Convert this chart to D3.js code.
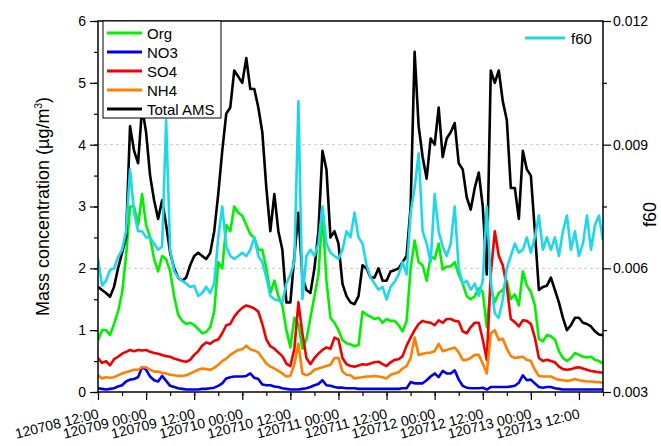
<!DOCTYPE html>
<html>
<head>
<meta charset="utf-8">
<script src="https://cdn.jsdelivr.net/npm/d3@7"></script>
<style>
  body { margin: 0; background: #fff; }
  svg { display: block; font-family: "Liberation Sans", Arial, sans-serif; }
</style>
</head>
<body>
<svg id="chart" width="661" height="446"></svg>
<script>
// DATA: hourly samples starting 2012-07-08 12:00
var startTime = new Date(2012, 6, 8, 12, 0);
var endTime = new Date(2012, 6, 13, 18, 0);

var totalAms = [
  1.70,1.65,1.60,1.54,1.70,2.00,2.25,2.50,4.30,3.90,
  3.70,4.60,4.20,3.50,3.10,2.80,3.10,2.70,2.25,2.00,
  1.85,1.80,1.85,2.05,2.20,2.25,2.20,2.15,2.25,2.60,
  3.20,3.90,4.50,4.60,5.20,5.10,5.00,5.40,4.90,4.90,
  4.60,4.20,3.30,2.60,3.20,2.60,2.30,1.45,1.45,2.20,
  2.90,1.85,1.65,1.60,2.00,2.60,3.90,3.60,2.50,2.60,
  2.40,1.75,1.55,1.45,1.42,1.55,2.05,2.00,1.85,1.85,
  2.00,1.80,1.80,1.95,1.97,2.00,2.10,2.20,3.00,5.50,
  4.30,3.80,3.45,4.10,4.00,4.60,3.80,4.10,4.20,4.35,
  3.70,3.60,3.15,2.95,3.30,3.55,3.00,1.90,5.20,5.00,
  5.20,4.70,4.40,3.30,3.30,2.80,3.90,3.60,3.50,2.60,
  1.65,1.70,1.72,1.85,1.65,1.45,1.20,1.00,1.08,1.20,
  1.20,1.12,1.10,1.06,0.98,0.93,0.92
];
var org = [
  0.84,1.00,1.00,0.92,1.10,1.30,1.60,2.20,3.00,3.00,
  2.70,3.20,2.70,2.50,2.15,1.95,2.20,2.15,1.95,1.55,
  1.25,1.15,1.10,1.12,1.08,1.02,0.95,0.97,1.05,1.30,
  2.10,2.00,2.70,2.60,3.00,2.90,2.85,2.70,2.55,2.50,
  2.30,2.30,2.00,1.60,1.80,1.55,1.40,1.00,0.72,1.20,
  1.10,0.70,0.85,1.20,1.55,1.90,2.90,1.80,1.20,1.12,
  1.00,0.84,0.79,0.77,0.74,0.76,1.30,1.25,1.22,1.18,
  1.20,1.12,1.18,1.15,1.15,1.08,0.98,1.15,2.00,2.45,
  2.10,2.05,1.80,2.20,2.15,2.40,1.98,2.03,2.03,2.10,
  1.90,1.75,1.55,1.50,1.55,1.68,1.62,1.05,1.70,1.45,
  1.60,1.65,1.80,1.50,1.58,1.40,1.95,1.72,1.62,1.40,
  0.86,0.82,0.92,0.90,0.85,0.66,0.55,0.50,0.55,0.63,
  0.60,0.57,0.56,0.57,0.52,0.50,0.46
];
var so4 = [
  0.55,0.47,0.50,0.43,0.53,0.57,0.62,0.65,0.68,0.66,
  0.68,0.67,0.68,0.65,0.63,0.62,0.60,0.58,0.57,0.54,
  0.52,0.50,0.49,0.52,0.60,0.66,0.75,0.80,0.78,0.83,
  0.85,0.95,1.08,1.10,1.22,1.30,1.36,1.40,1.38,1.35,
  1.30,1.10,0.85,0.74,0.70,0.64,0.58,0.46,0.42,0.70,
  1.45,0.95,0.55,0.45,0.55,0.62,0.68,0.72,0.70,0.88,
  0.85,0.55,0.45,0.42,0.41,0.43,0.45,0.44,0.46,0.48,
  0.49,0.45,0.42,0.48,0.52,0.53,0.58,0.75,0.88,1.00,
  1.10,1.15,1.13,1.12,1.08,1.16,1.12,1.18,1.18,1.15,
  1.14,0.98,0.95,1.05,1.12,1.12,0.85,0.52,1.90,2.60,
  2.20,2.05,1.70,1.18,1.13,1.06,1.16,1.15,1.10,0.88,
  0.55,0.50,0.52,0.50,0.48,0.41,0.37,0.36,0.37,0.39,
  0.40,0.38,0.36,0.34,0.33,0.32,0.31
];
var nh4 = [
  0.27,0.22,0.24,0.23,0.24,0.27,0.30,0.32,0.34,0.36,
  0.36,0.40,0.40,0.36,0.33,0.33,0.31,0.30,0.28,0.27,
  0.26,0.26,0.27,0.30,0.33,0.36,0.38,0.37,0.36,0.39,
  0.44,0.50,0.54,0.60,0.64,0.68,0.69,0.75,0.69,0.67,
  0.64,0.55,0.46,0.41,0.38,0.34,0.30,0.25,0.26,0.45,
  0.78,0.30,0.27,0.30,0.36,0.38,0.40,0.42,0.44,0.55,
  0.55,0.33,0.28,0.27,0.22,0.23,0.24,0.25,0.25,0.26,
  0.25,0.24,0.22,0.28,0.30,0.32,0.38,0.42,0.55,0.88,
  0.60,0.62,0.63,0.64,0.66,0.78,0.66,0.68,0.70,0.72,
  0.64,0.52,0.52,0.55,0.60,0.60,0.46,0.30,0.95,1.00,
  0.84,0.86,0.70,0.58,0.55,0.56,0.57,0.52,0.50,0.36,
  0.26,0.25,0.25,0.25,0.22,0.20,0.19,0.18,0.19,0.21,
  0.19,0.18,0.17,0.17,0.16,0.16,0.15
];
var no3 = [
  0.06,0.05,0.04,0.05,0.06,0.09,0.11,0.17,0.20,0.21,
  0.24,0.40,0.36,0.25,0.19,0.17,0.26,0.18,0.10,0.08,
  0.06,0.05,0.04,0.04,0.04,0.04,0.05,0.05,0.06,0.07,
  0.10,0.14,0.22,0.24,0.25,0.25,0.25,0.26,0.30,0.23,
  0.21,0.12,0.11,0.11,0.09,0.08,0.06,0.05,0.04,0.04,
  0.04,0.05,0.06,0.08,0.11,0.13,0.19,0.11,0.10,0.08,
  0.07,0.07,0.06,0.06,0.06,0.05,0.05,0.05,0.05,0.05,
  0.05,0.05,0.05,0.05,0.05,0.05,0.06,0.06,0.16,0.14,
  0.14,0.14,0.19,0.25,0.30,0.24,0.34,0.30,0.30,0.35,
  0.20,0.10,0.07,0.06,0.06,0.06,0.07,0.04,0.08,0.08,
  0.08,0.08,0.08,0.09,0.10,0.15,0.27,0.19,0.20,0.14,
  0.08,0.07,0.08,0.08,0.06,0.05,0.04,0.04,0.04,0.04,
  0.04,0.04,0.04,0.04,0.04,0.04,0.04
];
var f60 = [
  0.00623,0.00558,0.00570,0.00596,0.00600,0.00627,0.00645,0.00690,0.00840,0.00735,
  0.00690,0.00690,0.00675,0.00675,0.00660,0.00645,0.00653,0.00960,0.00645,0.00593,
  0.00578,0.00570,0.00563,0.00555,0.00558,0.00533,0.00540,0.00555,0.00540,0.00563,
  0.00675,0.00750,0.00653,0.00630,0.00623,0.00630,0.00638,0.00630,0.00645,0.00675,
  0.00630,0.00615,0.00578,0.00533,0.00525,0.00522,0.00518,0.00563,0.00585,0.00615,
  0.01005,0.00525,0.00630,0.00645,0.00630,0.00660,0.00750,0.00660,0.00638,0.00630,
  0.00623,0.00645,0.00690,0.00675,0.00735,0.00675,0.00660,0.00608,0.00578,0.00563,
  0.00548,0.00555,0.00525,0.00555,0.00567,0.00585,0.00615,0.00585,0.00735,0.00795,
  0.00879,0.00690,0.00660,0.00615,0.00780,0.00690,0.00653,0.00630,0.00660,0.00750,
  0.00600,0.00563,0.00570,0.00548,0.00563,0.00533,0.00570,0.00750,0.00570,0.00491,
  0.00480,0.00525,0.00600,0.00630,0.00660,0.00638,0.00645,0.00675,0.00638,0.00675,
  0.00728,0.00645,0.00675,0.00645,0.00675,0.00630,0.00690,0.00728,0.00645,0.00690,
  0.00630,0.00660,0.00728,0.00645,0.00705,0.00728,0.00668
];

var seriesNames = ["Org", "NO3", "SO4", "NH4", "Total AMS"];
var seriesColors = ["#00f000", "#0000f0", "#f00000", "#ff8000", "#000000"];
var f60Color = "#1ed8ea";
var leftTicks = [0, 1, 2, 3, 4, 5, 6];
var rightTicks = [0.003, 0.006, 0.009, 0.012];
var gridValues = [2, 4];

var times = org.map(function (d, i) { return d3.timeHour.offset(startTime, i); });
var leftSeries = [org, no3, so4, nh4, totalAms];

// LAYOUT
var svg = d3.select("#chart");
var plotLeft = 98, plotRight = 603, plotTop = 21, plotBottom = 392;

var x = d3.scaleTime().domain([startTime, endTime]).range([plotLeft, plotRight]);
var y = d3.scaleLinear().domain([0, 6]).range([plotBottom, plotTop]);
var y2 = d3.scaleLinear().domain([0.003, 0.012]).range([plotBottom, plotTop]);

// grid lines
svg.selectAll(".grid")
    .data(gridValues)
    .enter().append("line")
    .attr("x1", plotLeft).attr("x2", plotRight)
    .attr("y1", function (d) { return y(d); })
    .attr("y2", function (d) { return y(d); })
    .attr("stroke", "#c8c8c8")
    .attr("stroke-dasharray", "3,3");

// series lines
var plot = svg.append("g");
plot.append("clipPath").attr("id", "clip")
    .append("rect").attr("x", plotLeft).attr("y", plotTop)
    .attr("width", plotRight - plotLeft).attr("height", plotBottom - plotTop);

var line = d3.line()
    .x(function (d, i) { return x(times[i]); })
    .y(function (d) { return y(d); });
for (var s = 0; s < leftSeries.length; s++) {
    plot.append("path")
        .attr("d", line(leftSeries[s]))
        .attr("fill", "none")
        .attr("stroke", seriesColors[s])
        .attr("stroke-width", 2.6)
        .attr("stroke-linejoin", "round")
        .attr("clip-path", "url(#clip)");
}
var f60Line = d3.line()
    .x(function (d, i) { return x(times[i]); })
    .y(function (d) { return y2(d); });
plot.append("path")
    .attr("d", f60Line(f60))
    .attr("fill", "none")
    .attr("stroke", f60Color)
    .attr("stroke-width", 2.6)
    .attr("stroke-linejoin", "round")
    .attr("clip-path", "url(#clip)");

// AXES
var majorTimes = d3.timeHour.every(12).range(startTime, d3.timeHour.offset(endTime, 1));
var minorTimes = d3.timeHour.every(6).range(startTime, d3.timeHour.offset(endTime, 1));
var fmt = d3.timeFormat("%y%m%d %H:%M");

svg.append("g").attr("transform", "translate(0," + plotBottom + ")")
    .call(d3.axisBottom(x).tickValues(minorTimes).tickSize(4).tickSizeOuter(0).tickFormat(""));
var xAxis = svg.append("g").attr("transform", "translate(0," + plotBottom + ")")
    .call(d3.axisBottom(x).tickValues(majorTimes).tickSize(8).tickSizeOuter(0).tickFormat(fmt));
xAxis.selectAll("text")
    .attr("x", 0).attr("y", 0).attr("dy", 0)
    .attr("text-anchor", "end")
    .attr("transform", "translate(1,26) rotate(-14)");

svg.append("g").attr("transform", "translate(" + plotLeft + ",0)")
    .call(d3.axisLeft(y).ticks(12).tickSize(4).tickSizeOuter(0).tickFormat(""));
svg.append("g").attr("transform", "translate(" + plotLeft + ",0)")
    .call(d3.axisLeft(y).tickValues(leftTicks).tickSize(8).tickPadding(4).tickSizeOuter(0)
        .tickFormat(d3.format("d")));

svg.append("g").attr("transform", "translate(" + plotRight + ",0)")
    .call(d3.axisRight(y2).tickValues([0.0045, 0.0075, 0.0105]).tickSize(4).tickSizeOuter(0).tickFormat(""));
svg.append("g").attr("transform", "translate(" + plotRight + ",0)")
    .call(d3.axisRight(y2).tickValues(rightTicks).tickSize(8).tickPadding(2).tickSizeOuter(0)
        .tickFormat(d3.format(".3f")));

svg.selectAll(".tick text")
    .attr("font-size", 14)
    .attr("font-family", "'Liberation Sans', Arial, sans-serif")
    .attr("fill", "#000");
svg.selectAll(".tick line").attr("stroke", "#000").attr("stroke-width", 1.2);
svg.selectAll(".domain").remove();

// frame
svg.append("rect")
    .attr("x", plotLeft).attr("y", plotTop)
    .attr("width", plotRight - plotLeft).attr("height", plotBottom - plotTop)
    .attr("fill", "none").attr("stroke", "#000").attr("stroke-width", 1.5);

// axis titles
svg.append("text")
    .attr("transform", "translate(49," + ((plotTop + plotBottom) / 2) + ") rotate(-90)")
    .attr("text-anchor", "middle")
    .attr("font-size", 18)
    .html('Mass concentration (\u00b5g/m<tspan dy="-7" font-size="10">3</tspan><tspan dy="7">)</tspan>');

svg.append("text")
    .attr("transform", "translate(656," + ((plotTop + plotBottom) / 2 + 8) + ") rotate(-90)")
    .attr("text-anchor", "middle")
    .attr("font-size", 18)
    .text("f60");

// LEGENDS
var legend = svg.append("g");
legend.append("rect")
    .attr("x", 103).attr("y", plotTop)
    .attr("width", 118).attr("height", 97)
    .attr("fill", "#fff").attr("stroke", "#000").attr("stroke-width", 1);
var rows = legend.selectAll(".row")
    .data(seriesNames)
    .enter().append("g")
    .attr("transform", function (d, i) { return "translate(0," + (33 + i * 19) + ")"; });
rows.append("line")
    .attr("x1", 107).attr("x2", 142)
    .attr("stroke", function (d, i) { return seriesColors[i]; })
    .attr("stroke-width", 3);
rows.append("text")
    .attr("x", 147).attr("y", 5.5)
    .attr("font-size", 15)
    .text(function (d) { return d; });

svg.append("line")
    .attr("x1", 525).attr("x2", 565).attr("y1", 38).attr("y2", 38)
    .attr("stroke", f60Color).attr("stroke-width", 3);
svg.append("text")
    .attr("x", 571).attr("y", 43.5)
    .attr("font-size", 15)
    .text("f60");
</script>
</body>
</html>
